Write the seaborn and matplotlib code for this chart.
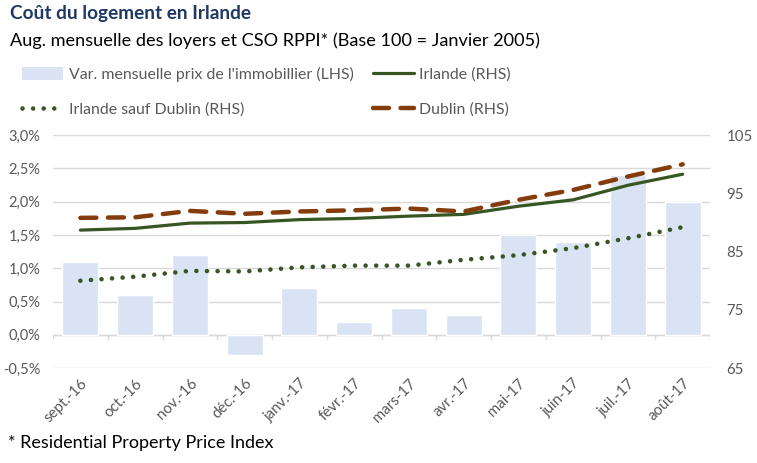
import matplotlib
matplotlib.use("Agg")
import matplotlib.pyplot as plt
import matplotlib.ticker as mticker
from matplotlib.lines import Line2D
from matplotlib.patches import Patch
import seaborn as sns

# --- data -------------------------------------------------------------------
months = ["sept.-16", "oct.-16", "nov.-16", "déc.-16", "janv.-17", "févr.-17",
          "mars-17", "avr.-17", "mai-17", "juin-17", "juil.-17", "août-17"]
# monthly change in property prices (LHS, %)
var_mensuelle = [1.1, 0.6, 1.2, -0.3, 0.7, 0.2, 0.4, 0.3, 1.5, 1.4, 2.4, 2.0]
# rent indices (RHS, base 100 = Jan 2005)
irlande = [88.7, 89.0, 89.9, 90.0, 90.5, 90.7, 91.1, 91.4, 92.8, 93.9, 96.4, 98.3]
irlande_sauf_dublin = [80.0, 80.7, 81.7, 81.6, 82.3, 82.6, 82.6, 83.6, 84.4, 85.6, 87.3, 89.2]
dublin = [90.8, 90.9, 92.0, 91.5, 91.9, 92.1, 92.4, 91.9, 93.9, 95.6, 97.9, 100.0]

BAR_C = "#DAE3F3"
GREEN = "#375623"
BROWN = "#843C0C"
GRID_C = "#D9D9D9"
TICK_C = "#595959"
DOTS = (0, (0.01, 2.3))
DASHES = (0, (3.6, 2.6))

sns.set_theme(style="white")
plt.rcParams["font.family"] = ["Lato", "DejaVu Sans"]

fig = plt.figure(figsize=(7.57, 4.63), dpi=100)
ax = fig.add_axes([0.070, 0.205, 0.868, 0.503])

sns.barplot(x=months, y=var_mensuelle, color=BAR_C, width=0.66, ax=ax,
            saturation=1, zorder=2)
ax.set_ylim(-0.5, 3.0)
ax.set_xlim(-0.5, len(months) - 0.5)
ax.yaxis.set_major_locator(mticker.MultipleLocator(0.5))
ax.yaxis.set_major_formatter(
    mticker.FuncFormatter(lambda v, _: f"{v:.1f}%".replace(".", ",")))
ax.grid(axis="y", color=GRID_C, lw=1.0, zorder=0)
ax.set_axisbelow(True)
for s in ax.spines.values():
    s.set_visible(False)
ax.axhline(0, color=GRID_C, lw=1.0, zorder=1)
for b in range(len(months) + 1):
    ax.plot([b - 0.5, b - 0.5], [0, -0.07], color=GRID_C, lw=1.0, zorder=1)
ax.tick_params(axis="both", length=0, colors=TICK_C, labelsize=10.8)
ax.tick_params(axis="y", pad=9, labelsize=10.5)
ax.tick_params(axis="x", pad=6)
plt.setp(ax.get_xticklabels(), rotation=45, ha="right", rotation_mode="anchor")
ax.set_xlabel("")

ax2 = ax.twinx()
xs = list(range(len(months)))
sns.lineplot(x=xs, y=irlande, ax=ax2, color=GREEN, lw=2.3)
sns.lineplot(x=xs, y=irlande_sauf_dublin, ax=ax2, color=GREEN, lw=3.3,
             linestyle=DOTS, dash_capstyle="round")
sns.lineplot(x=xs, y=dublin, ax=ax2, color=BROWN, lw=3.2,
             linestyle=DASHES, dash_capstyle="round")
ax2.set_ylim(65, 105)
ax2.set_yticks([65, 75, 85, 95, 105])
ax2.grid(False)
for s in ax2.spines.values():
    s.set_visible(False)
ax2.tick_params(axis="y", length=0, colors=TICK_C, labelsize=10.8, pad=12)
ax2.set_xlim(-0.5, len(months) - 0.5)

# --- texts ------------------------------------------------------------------
fig.text(0.013, 0.970, "Coût du logement en Irlande", color="#1F3864",
         fontsize=13.7, fontweight="bold", va="center")
fig.text(0.013, 0.911, "Aug. mensuelle des loyers et CSO RPPI* (Base 100 = Janvier 2005)",
         color="black", fontsize=13.1, va="center")
fig.text(0.010, 0.043, "* Residential Property Price Index", color="black",
         fontsize=13, va="center")

handles = [
    Patch(facecolor=BAR_C, edgecolor="none"),
    Line2D([], [], color=GREEN, lw=3.3, linestyle=DOTS, dash_capstyle="round"),
    Line2D([], [], color=GREEN, lw=2.3),
    Line2D([], [], color=BROWN, lw=3.2, linestyle=DASHES, dash_capstyle="round"),
]
labels = ["Var. mensuelle prix de l'immobillier (LHS)", "Irlande sauf Dublin (RHS)",
          "Irlande (RHS)", "Dublin (RHS)"]
fig.legend(handles, labels, ncol=2, loc="upper left", bbox_to_anchor=(0.029, 0.855),
           frameon=False, fontsize=11.4, labelcolor=TICK_C, handlelength=2.6,
           handleheight=0.9, handletextpad=0.35, columnspacing=1.2,
           labelspacing=1.25, borderpad=0, borderaxespad=0)

fig.savefig("out.png", dpi=100)
